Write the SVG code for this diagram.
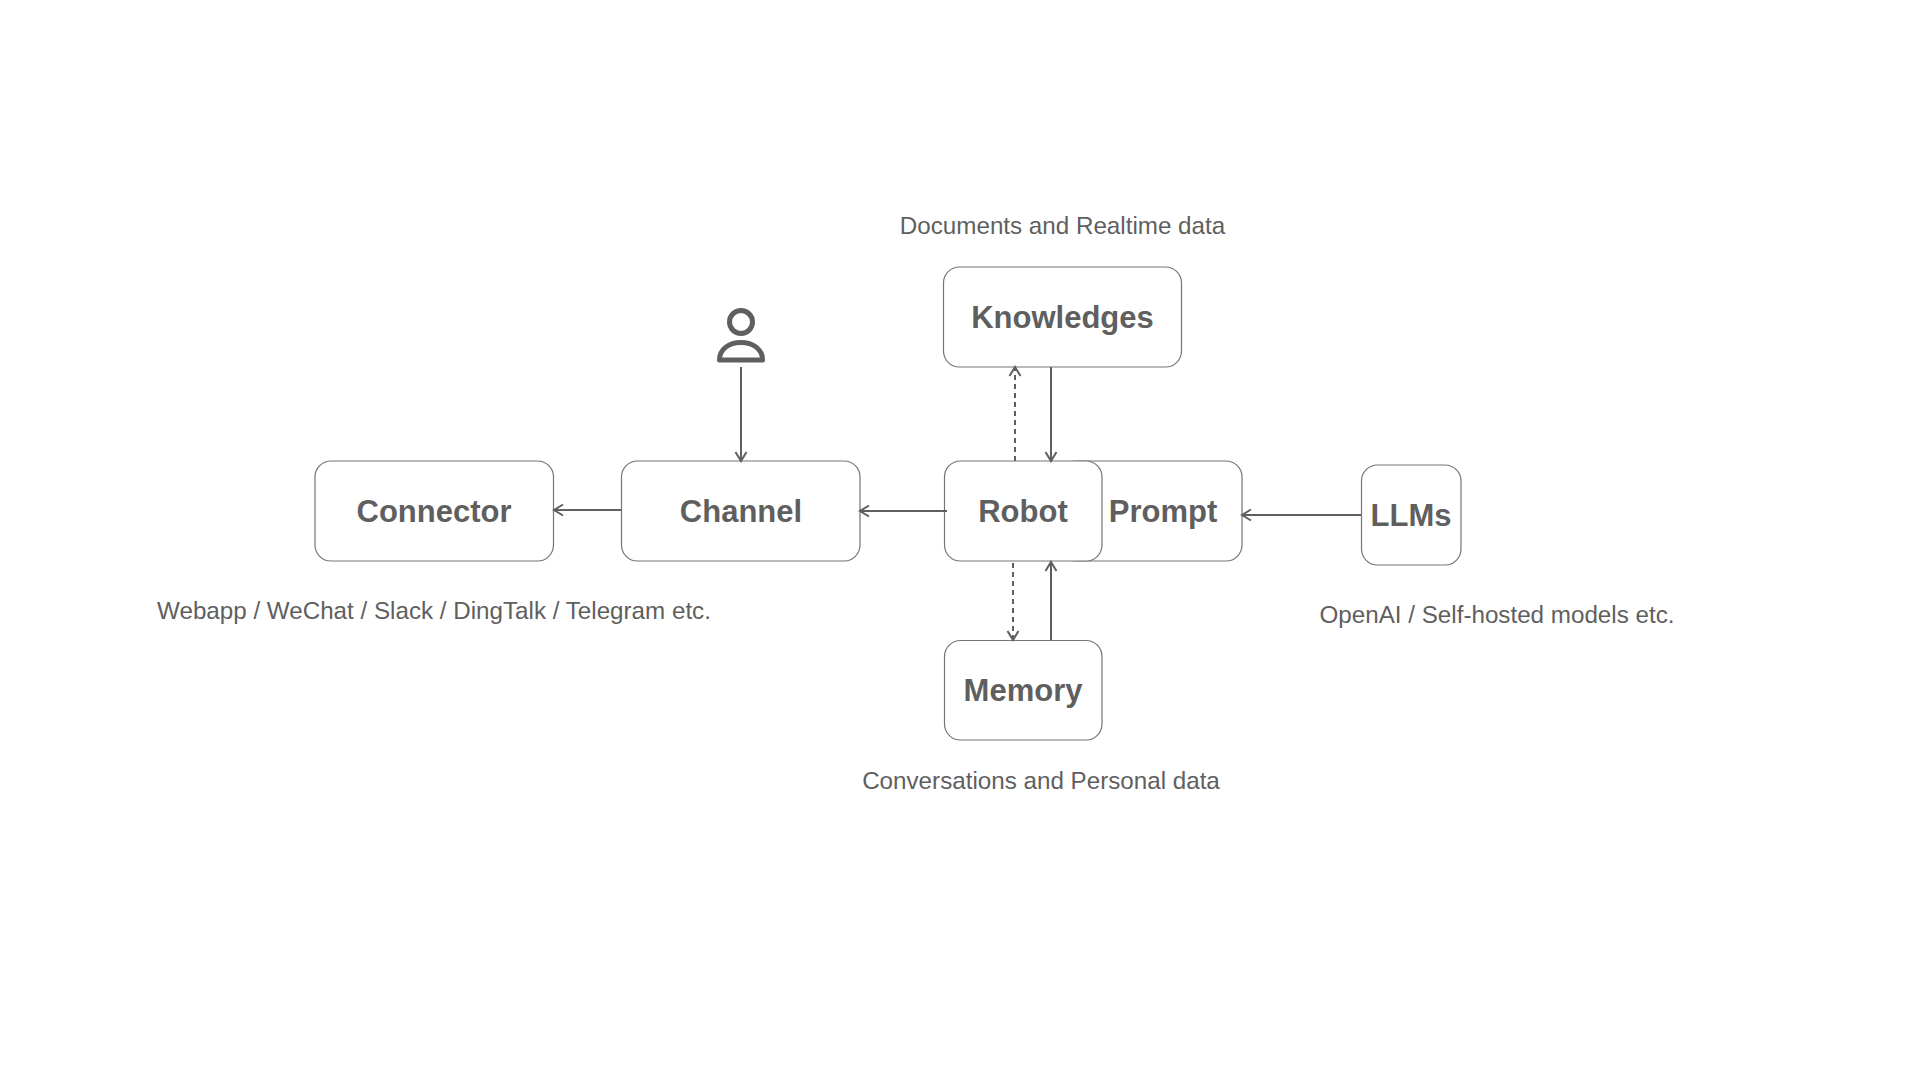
<svg xmlns="http://www.w3.org/2000/svg" width="1920" height="1080" viewBox="0 0 1920 1080">
<style>
.b{fill:#fff;stroke:#757575;stroke-width:1.2}
.t{font-family:"Liberation Sans",Arial,sans-serif;font-weight:700;font-size:31px;fill:#5f5f5f;text-anchor:middle}
.l{font-family:"Liberation Sans",Arial,sans-serif;font-size:24.200px;fill:#5f5f5f;text-anchor:middle}
.c{fill:none;stroke:#5f5f5f;stroke-width:2}
.d{stroke-dasharray:5 4}
.h{fill:none;stroke:#5f5f5f;stroke-width:2}
</style>
<defs>
<marker id="a" markerUnits="userSpaceOnUse" markerWidth="14" markerHeight="14" refX="11" refY="7" orient="auto"><path class="h" d="M2 1.5L11 7L2 12.5"/></marker>
</defs>
<rect width="1920" height="1080" fill="#fff"/>
<g id="prompt"><rect class="b" x="1060" y="461" width="182" height="100" rx="16"/><text class="t" x="1163" y="522">Prompt</text></g>
<g id="robot"><rect class="b" x="944.500" y="461" width="157.500" height="100" rx="16"/><text class="t" x="1023" y="522">Robot</text></g>
<g id="connector"><rect class="b" x="315" y="461" width="238.500" height="100" rx="16"/><text class="t" x="434" y="522">Connector</text></g>
<g id="channel"><rect class="b" x="621.500" y="461" width="238.500" height="100" rx="16"/><text class="t" x="741" y="522">Channel</text></g>
<g id="knowledges"><rect class="b" x="943.500" y="267" width="238" height="100" rx="16"/><text class="t" x="1062.500" y="328">Knowledges</text></g>
<g id="memory"><rect class="b" x="944.500" y="640.500" width="157.500" height="99.500" rx="16"/><text class="t" x="1023" y="701">Memory</text></g>
<g id="llms"><rect class="b" x="1361.500" y="465" width="99.500" height="100" rx="16"/><text class="t" x="1411" y="526">LLMs</text></g>
<g id="user"><circle cx="741" cy="322" r="11.500" fill="none" stroke="#5f5f5f" stroke-width="5"/><path d="M719.500 360C719.500 349 729 342.500 741 342.500C753 342.500 762.500 349 762.500 360Z" fill="none" stroke="#5f5f5f" stroke-width="5" stroke-linejoin="round"/></g>
<g id="labels">
<text class="l" x="1062.500" y="234">Documents and Realtime data</text>
<text class="l" x="434" y="619">Webapp / WeChat / Slack / DingTalk / Telegram etc.</text>
<text class="l" x="1497" y="623">OpenAI / Self-hosted models etc.</text>
<text class="l" x="1041" y="789">Conversations and Personal data</text>
</g>
<g id="connectors">
<path class="c" d="M741 367V461" marker-end="url(#a)"/>
<path class="c" d="M621.500 510H554" marker-end="url(#a)"/>
<path class="c" d="M947 511H860" marker-end="url(#a)"/>
<path class="c" d="M1361 515H1242" marker-end="url(#a)"/>
<path class="c" d="M1051 367V461" marker-end="url(#a)"/>
<path class="c d" d="M1015 461V367" marker-end="url(#a)"/>
<path class="c" d="M1051 640V562" marker-end="url(#a)"/>
<path class="c d" d="M1013 563V640" marker-end="url(#a)"/>
</g>
</svg>
